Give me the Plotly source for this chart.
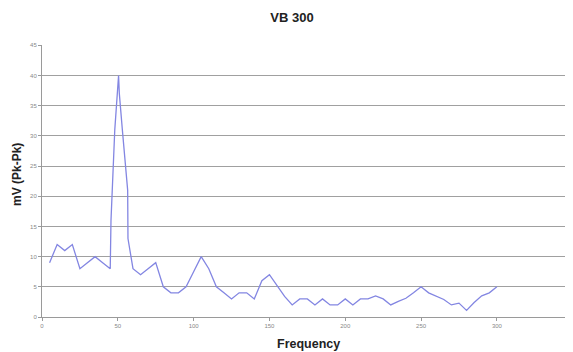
import plotly.graph_objects as go

# Frequency (x) and amplitude mV Pk-Pk (y)
frequency = [5, 10, 15, 20, 25, 30, 35, 40, 45, 45.5, 46.5, 48, 50.5, 51, 53, 55, 56.5, 56.7, 59, 60,
             65, 70, 75, 80, 85, 90, 95, 100, 105, 110, 115, 120, 125, 130, 135, 140, 145, 150,
             155, 160, 165, 170, 175, 180, 185, 190, 195, 200, 205, 210, 215, 220, 225, 230,
             235, 240, 245, 250, 255, 260, 265, 270, 275, 280, 285, 290, 295, 300]
mv_pkpk = [9, 12, 11, 12, 8, 9, 10, 9, 8, 16, 23, 31, 40, 37, 31, 25, 21, 13, 9, 8,
           7, 8, 9, 5, 4, 4, 5, 7.5, 10, 8, 5, 4, 3, 4, 4, 3, 6, 7,
           5.3, 3.4, 2, 3, 3, 2, 3, 2, 2, 3, 2, 3, 3, 3.5, 3, 2,
           2.6, 3.1, 4, 5, 4, 3.4, 2.9, 2, 2.3, 1.1, 2.4, 3.5, 4, 5]

x_ticks = [0, 50, 100, 150, 200, 250, 300, 350]
y_ticks = [0, 5, 10, 15, 20, 25, 30, 35, 40, 45]

# The page body adds an 8px margin; size the figure so it fits the 573x352 window
OFF = 8
W, H = 573 - OFF, 352 - OFF
L, R, T, B = 42 - OFF, 0, 45 - OFF, 35
PW, PH = W - L - R, H - T - B


def px(x):
    return (x - OFF - L) / PW


def py(y):
    return (H - B - (y - OFF)) / PH


fig = go.Figure()
fig.add_trace(go.Scatter(
    x=frequency, y=mv_pkpk, mode="lines",
    line=dict(color="#8386e2", width=1.3),
    showlegend=False,
))

fig.update_layout(
    width=W, height=H,
    margin=dict(l=L, r=R, t=T, b=B),
    paper_bgcolor="white", plot_bgcolor="white",
    font=dict(family="Liberation Sans, Arial, sans-serif"),
    title=dict(text="<b>VB 300</b>", x=(292 - OFF) / W, xref="container", xanchor="center",
               y=1 - (17 - OFF) / H, yref="container", yanchor="middle",
               font=dict(size=13, color="#222")),
    annotations=[
        dict(text="<b>Frequency</b>", x=px(308), y=py(344),
             xref="paper", yref="paper", showarrow=False,
             xanchor="center", yanchor="middle", font=dict(size=12.5, color="#222")),
        dict(text="<b>mV (Pk-Pk)</b>", x=px(17), y=py(175),
             xref="paper", yref="paper", showarrow=False, textangle=-90,
             xanchor="center", yanchor="middle", font=dict(size=12, color="#222")),
    ],
)

fig.update_xaxes(
    range=[0, 350.2], tickvals=x_ticks, ticktext=[str(v) for v in x_ticks],
    showgrid=False, zeroline=False, automargin=False,
    showline=True, linecolor="#9a9a9a", linewidth=1,
    ticks="outside", ticklen=3, tickcolor="#9a9a9a",
    tickfont=dict(size=6, color="#888"),
)
fig.update_yaxes(
    range=[0, 45.05], tickvals=y_ticks, ticktext=[str(v) for v in y_ticks],
    showgrid=True, gridcolor="#a0a0a0", gridwidth=1, zeroline=False, automargin=False,
    showline=True, linecolor="#9a9a9a", linewidth=1,
    ticks="outside", ticklen=3, tickcolor="#9a9a9a",
    tickfont=dict(size=6, color="#888"),
)

fig.write_html("out.html")
